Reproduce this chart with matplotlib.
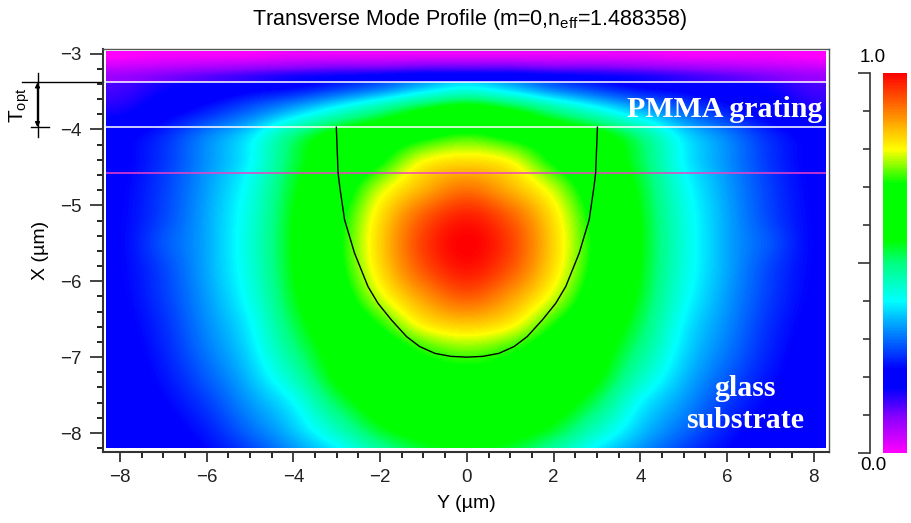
import numpy as np
import matplotlib
import matplotlib.pyplot as plt
from matplotlib.colors import LinearSegmentedColormap
from matplotlib.patches import Rectangle
from matplotlib.ticker import MultipleLocator

matplotlib.use("Agg")

plt.rcParams["font.family"] = ["Liberation Sans", "DejaVu Sans"]
plt.rcParams["mathtext.fontset"] = "custom"
plt.rcParams["mathtext.rm"] = "Liberation Sans"
plt.rcParams["mathtext.it"] = "Liberation Sans:italic"

# --- field samples (half profile, Y = 0 .. 8, mirrored) ---
y_cols = [0, 1, 2, 3, 4, 5, 6, 7, 8]

# grating + substrate region (below the upper interface), top row first
core_rows_x = [-3.40, -3.75, -4.10, -4.45, -4.80, -5.15, -5.50, -5.85,
               -6.20, -6.55, -6.90, -7.25, -7.60, -7.95, -8.30]
core_half = [
    [0.380, 0.340, 0.280, 0.240, 0.210, 0.200, 0.180, 0.160, 0.130],
    [0.600, 0.560, 0.490, 0.420, 0.350, 0.290, 0.240, 0.200, 0.160],
    [0.727, 0.696, 0.644, 0.591, 0.499, 0.384, 0.315, 0.249, 0.210],
    [0.831, 0.804, 0.707, 0.624, 0.526, 0.399, 0.326, 0.258, 0.215],
    [0.910, 0.861, 0.780, 0.656, 0.545, 0.417, 0.335, 0.265, 0.219],
    [0.975, 0.925, 0.820, 0.683, 0.557, 0.427, 0.341, 0.270, 0.221],
    [1.000, 0.950, 0.833, 0.692, 0.561, 0.431, 0.342, 0.281, 0.222],
    [0.982, 0.931, 0.822, 0.684, 0.557, 0.427, 0.341, 0.269, 0.221],
    [0.929, 0.878, 0.785, 0.660, 0.545, 0.416, 0.333, 0.263, 0.218],
    [0.845, 0.814, 0.720, 0.627, 0.523, 0.397, 0.322, 0.253, 0.212],
    [0.752, 0.724, 0.659, 0.594, 0.494, 0.380, 0.308, 0.244, 0.205],
    [0.686, 0.672, 0.635, 0.570, 0.453, 0.358, 0.288, 0.233, 0.200],
    [0.643, 0.631, 0.598, 0.518, 0.400, 0.330, 0.264, 0.219, 0.190],
    [0.600, 0.589, 0.544, 0.451, 0.363, 0.299, 0.241, 0.205, 0.185],
    [0.547, 0.530, 0.462, 0.380, 0.322, 0.263, 0.221, 0.190, 0.175],
]

# cladding above the grating, top row first
clad_rows_x = [-3.03, -3.17, -3.31]
clad_half = [
    [0.02, 0.02, 0.02, 0.02, 0.02, 0.01, 0.01, 0.01, 0.00],
    [0.10, 0.10, 0.09, 0.09, 0.08, 0.07, 0.06, 0.05, 0.04],
    [0.19, 0.19, 0.18, 0.17, 0.16, 0.14, 0.12, 0.10, 0.08],
]

# waveguide boundary (black curve)
curve_y = [-3.01, -2.97, -2.93, -2.82, -2.59, -2.28, -2.05, -1.74, -1.39, -1.09,
           -0.74, -0.37, 0.0, 0.37, 0.74, 1.09, 1.39, 1.74, 2.05, 2.28, 2.59,
           2.82, 2.93, 2.97, 3.01]
curve_x = [-3.97, -4.57, -4.76, -5.19, -5.63, -6.07, -6.29, -6.51, -6.73, -6.86,
           -6.95, -6.99, -7.00, -6.99, -6.95, -6.86, -6.73, -6.51, -6.29, -6.07,
           -5.63, -5.19, -4.76, -4.57, -3.97]

white_lines = [-3.38, -3.97]
pink_line = -4.57
image_box = (-8.32, 8.28, -8.20, -2.965)

cmap_stops = [0.0, 0.09, 0.17, 0.22, 0.33, 0.40, 0.50, 0.56, 0.71, 0.80, 0.90, 1.0]
cmap_colors = ["#ff00ff", "#8c00ff", "#0000ff", "#0000ff", "#0099ff", "#00ffff",
               "#00ff80", "#00ff00", "#00ff00", "#ffff00", "#ff8000", "#ff0000"]
cmap = LinearSegmentedColormap.from_list("mode", list(zip(cmap_stops, cmap_colors)))

PAD = 2  # edge cells repeated so the smoothing filter has no border fade


def field(half):
    half = np.asarray(half, dtype=float)
    full = np.hstack([half[:, :0:-1], half])
    return np.pad(full, PAD, mode="edge")


def extent(rows):
    # rows are listed top to bottom, columns are 1 um apart
    step = abs(rows[1] - rows[0])
    ymax = y_cols[-1] + 0.5 + PAD
    return (-ymax, ymax, rows[-1] - step * (0.5 + PAD), rows[0] + step * (0.5 + PAD))


W, H = 911, 523
fig = plt.figure(figsize=(W / 100, H / 100), dpi=100)
ax = fig.add_axes([103 / W, 1 - 452 / H, 726 / W, 403 / H])

x0, x1, y0, y1 = image_box
layers = [
    (core_rows_x, core_half, y0, white_lines[0]),
    (clad_rows_x, clad_half, white_lines[0], y1),
]
for z, (rows, half, lo, hi) in enumerate(layers, start=1):
    im = ax.imshow(field(half), extent=extent(rows), cmap=cmap, vmin=0, vmax=1,
                   interpolation="catrom", interpolation_stage="data",
                   aspect="auto", origin="upper", zorder=z)
    im.set_clip_path(Rectangle((x0, lo), x1 - x0, hi - lo, transform=ax.transData))

ax.hlines(white_lines, x0, x1, colors="white", lw=1.1, zorder=3)
ax.hlines([pink_line], x0, x1, colors="#f040c8", lw=1.1, zorder=3)
ax.plot(curve_y, curve_x, color="black", lw=1.0, zorder=4)

ax.set_xlim(-8.39, 8.35)
ax.set_ylim(-8.25, -2.94)

ax.xaxis.set_major_locator(MultipleLocator(2))
ax.xaxis.set_minor_locator(MultipleLocator(0.5))
ax.yaxis.set_major_locator(MultipleLocator(1))
ax.yaxis.set_minor_locator(MultipleLocator(0.2))
ax.tick_params(top=False, right=False, direction="out", colors="#222222",
               labelsize=13.5, width=1.2)
ax.tick_params(axis="x", which="major", length=7.5, pad=5)
ax.tick_params(axis="x", which="minor", length=4, width=1.2)
ax.tick_params(axis="y", which="major", length=9.5, pad=6)
ax.tick_params(axis="y", which="minor", length=4.5, width=1.2)
for side in ("left", "bottom"):
    ax.spines[side].set_linewidth(1.5)
    ax.spines[side].set_color("#333333")
for side in ("top", "right"):
    ax.spines[side].set_linewidth(1.0)
    ax.spines[side].set_color("#555555")

ax.set_xlabel("Y (\u00b5m)", fontsize=14, labelpad=6)
ax.set_ylabel("X (\u00b5m)", fontsize=14, labelpad=8)
fig.text(470 / W, 1 - 20 / H, r"Transverse Mode Profile (m=0,n$_{\rm eff}$=1.488358)",
         ha="center", va="center", fontsize=15.5)

# layer labels
ax.text(8.2, -3.83, "PMMA grating", color="white", ha="right", va="baseline",
        family="Liberation Serif", weight="bold", fontsize=21.5, zorder=5)
ax.text(6.42, -7.51, "glass", color="white", ha="center", va="baseline",
        family="Liberation Serif", weight="bold", fontsize=21.5, zorder=5)
ax.text(6.42, -7.93, "substrate", color="white", ha="center", va="baseline",
        family="Liberation Serif", weight="bold", fontsize=21.5, zorder=5)

# T_opt thickness marker left of the axis
ax.plot([-10.25, -8.39], [white_lines[0]] * 2, color="black", lw=1, clip_on=False)
ax.plot([-10.05, -9.63], [white_lines[1]] * 2, color="black", lw=1, clip_on=False)
ax.plot([-9.9, -9.9], [-3.26, -4.10], color="black", lw=1, clip_on=False)
ax.annotate("", xy=(-9.9, white_lines[0]), xytext=(-9.9, white_lines[1]),
            arrowprops=dict(arrowstyle="<|-|>", color="black", lw=1,
                            mutation_scale=7, shrinkA=0, shrinkB=0),
            annotation_clip=False)
ax.text(-10.3, -3.68, r"T$_{\rm opt}$", rotation=90, ha="center", va="center",
        fontsize=15, clip_on=False)

# colour bar with the scale drawn to its left
cax = fig.add_axes([883 / W, 1 - 453 / H, 24 / W, 380 / H])
cb = fig.colorbar(plt.cm.ScalarMappable(norm=plt.Normalize(0, 1), cmap=cmap), cax=cax)
cb.outline.set_visible(False)
cax.yaxis.set_ticks_position("left")
cax.spines["left"].set_visible(True)
cax.spines["left"].set_position(("outward", 9.4))
cax.spines["left"].set_color("#333333")
cax.spines["left"].set_linewidth(1.2)
cax.yaxis.set_major_locator(MultipleLocator(0.5))
cax.yaxis.set_minor_locator(MultipleLocator(0.1))
cax.tick_params(which="major", length=9, width=1.2, colors="#333333", labelleft=False)
cax.tick_params(which="minor", length=5, width=1.2, colors="#333333")
fig.text(873 / W, 1 - 57 / H, "1.0", ha="center", va="center", fontsize=13.5)
fig.text(873 / W, 1 - 466 / H, "0.0", ha="center", va="center", fontsize=13.5)

fig.savefig("out.png", dpi=100)
